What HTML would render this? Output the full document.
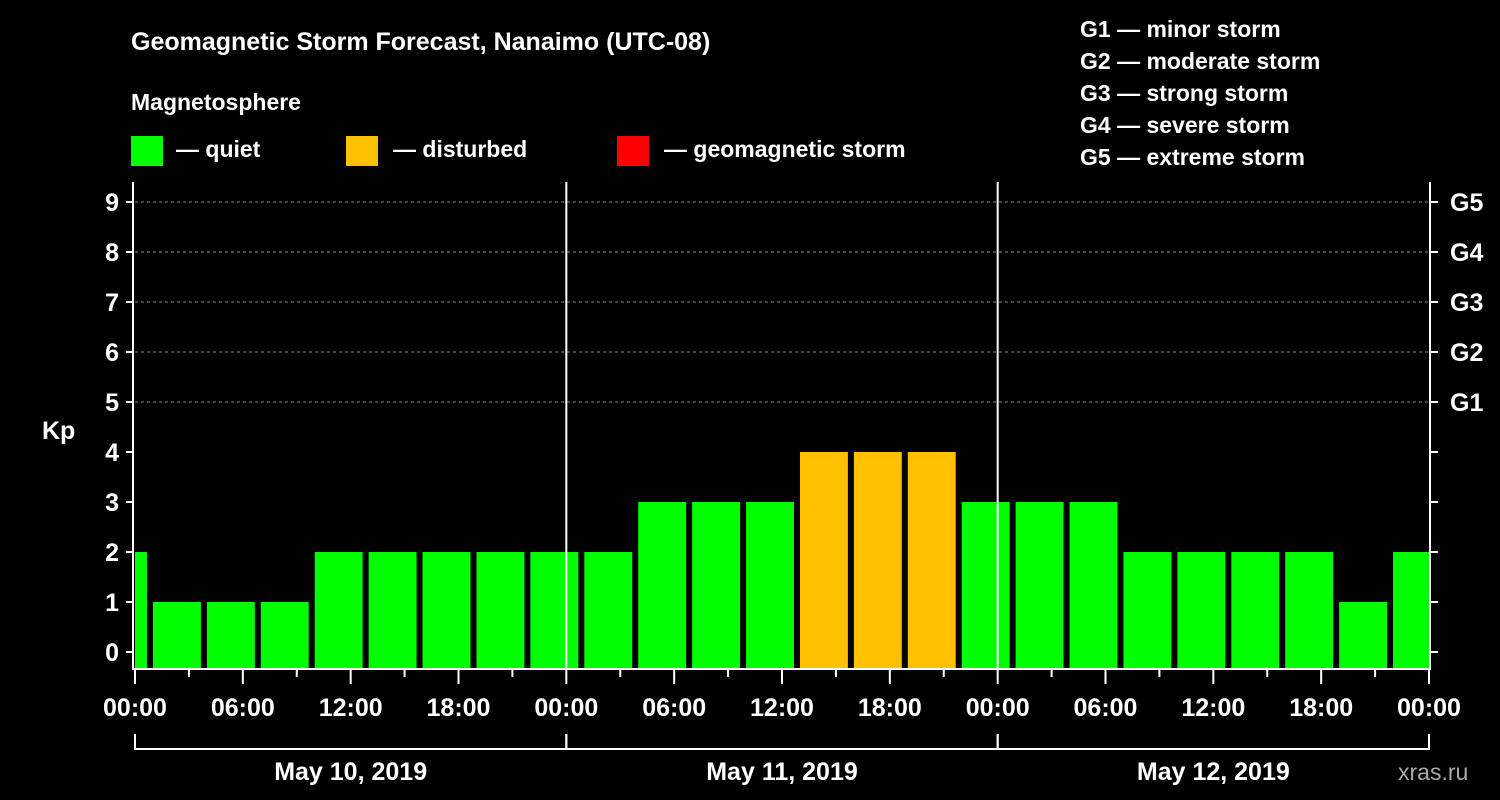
<!DOCTYPE html>
<html><head><meta charset="utf-8"><style>
body{margin:0;background:#000;}
svg{display:block;font-family:"Liberation Sans",sans-serif;font-weight:bold;fill:#fff;}
</style></head><body>
<svg id="c" width="1500" height="800">
<text x="131" y="50" font-size="25">Geomagnetic Storm Forecast, Nanaimo (UTC-08)</text>
<text x="131" y="110" font-size="23">Magnetosphere</text>
<g>
<rect x="131" y="136" width="32" height="30" fill="#00ff00"/>
<text x="176" y="157" font-size="23">— quiet</text>
<rect x="346" y="136" width="32" height="30" fill="#ffc000"/>
<text x="393" y="157" font-size="23">— disturbed</text>
<rect x="617" y="136" width="32" height="30" fill="#ff0000"/>
<text x="664" y="157" font-size="23">— geomagnetic storm</text>
</g>
<g font-size="23">
<text x="1080" y="37">G1 — minor storm</text>
<text x="1080" y="69">G2 — moderate storm</text>
<text x="1080" y="101">G3 — strong storm</text>
<text x="1080" y="133">G4 — severe storm</text>
<text x="1080" y="165">G5 — extreme storm</text>
</g>
<text x="42" y="439" font-size="25">Kp</text>
<text x="1398" y="780" font-size="23" fill="#aaa" style="fill:#aaa;font-weight:normal">xras.ru</text>
<g id="plot"></g>
</svg>
<script>
const values=[2,1,1,1,2,2,2,2,2,2,3,3,3,4,4,4,3,3,3,2,2,2,2,1,2];
const startHours=[-2,1,4,7,10,13,16,19,22,25,28,31,34,37,40,43,46,49,52,55,58,61,64,67,70];
const yTicks=[0,1,2,3,4,5,6,7,8,9];
const gLabels=["G1","G2","G3","G4","G5"];
const xLabels=["00:00","06:00","12:00","18:00","00:00","06:00","12:00","18:00","00:00","06:00","12:00","18:00","00:00"];
const dates=["May 10, 2019","May 11, 2019","May 12, 2019"];
const NS="http://www.w3.org/2000/svg";
const X0=135,X1=1429,HOURS=72;
const x=h=>X0+(X1-X0)*h/HOURS;
const y=v=>652-50*v;
const BOT=668;
const g=document.getElementById('plot');
function el(t,a){const e=document.createElementNS(NS,t);for(const k in a)e.setAttribute(k,a[k]);g.appendChild(e);return e;}
// grid
yTicks.forEach(v=>{if(v>=5){const l=el('line',{x1:X0,x2:X1,y1:y(v),y2:y(v),stroke:'#888','stroke-dasharray':'3,3'});

}});
// bars
values.forEach((v,i)=>{const a=Math.max(x(startHours[i]),X0),b=Math.min(x(startHours[i]+3)-6,X1);
const col=v>=5?'#ff0000':(v>=4?'#ffc000':'#00ff00');
const r=el('rect',{x:a,y:y(v),width:b-a,height:BOT-y(v),fill:col});

});
// day lines
[24,48].forEach(h=>{const l=el('line',{x1:x(h),x2:x(h),y1:182,y2:BOT,stroke:'#fff','stroke-width':2});

});
// axes
el('path',{d:`M${X0-2},182V${BOT+1}H${X1+1}V182`,fill:'none',stroke:'#fff','stroke-width':2});
yTicks.forEach(v=>{
el('line',{x1:X0-9,x2:X0-2,y1:y(v),y2:y(v),stroke:'#fff','stroke-width':2});
el('line',{x1:X1+1,x2:X1+9,y1:y(v),y2:y(v),stroke:'#fff','stroke-width':2});
const t=el('text',{x:X0-16,y:y(v)+9,'font-size':25,'text-anchor':'end'});t.textContent=v;

});
gLabels.forEach((s,i)=>{const t=el('text',{x:1450,y:y(5+i)+9,'font-size':25});t.textContent=s;

});
for(let h=0;h<=HOURS;h+=3){const maj=h%6===0;el('line',{x1:x(h),x2:x(h),y1:BOT,y2:BOT+(maj?16:9),stroke:'#fff','stroke-width':2});}
xLabels.forEach((s,i)=>{const t=el('text',{x:x(i*6),y:716,'font-size':25,'text-anchor':'middle'});t.textContent=s;

});
dates.forEach((s,i)=>{const a=x(i*24),b=x(i*24+24);
el('path',{d:`M${a},734V749H${b}V734`,fill:'none',stroke:'#fff','stroke-width':2});
const t=el('text',{x:(a+b)/2,y:780,'font-size':25,'text-anchor':'middle'});t.textContent=s;

});
</script>
</body></html>
